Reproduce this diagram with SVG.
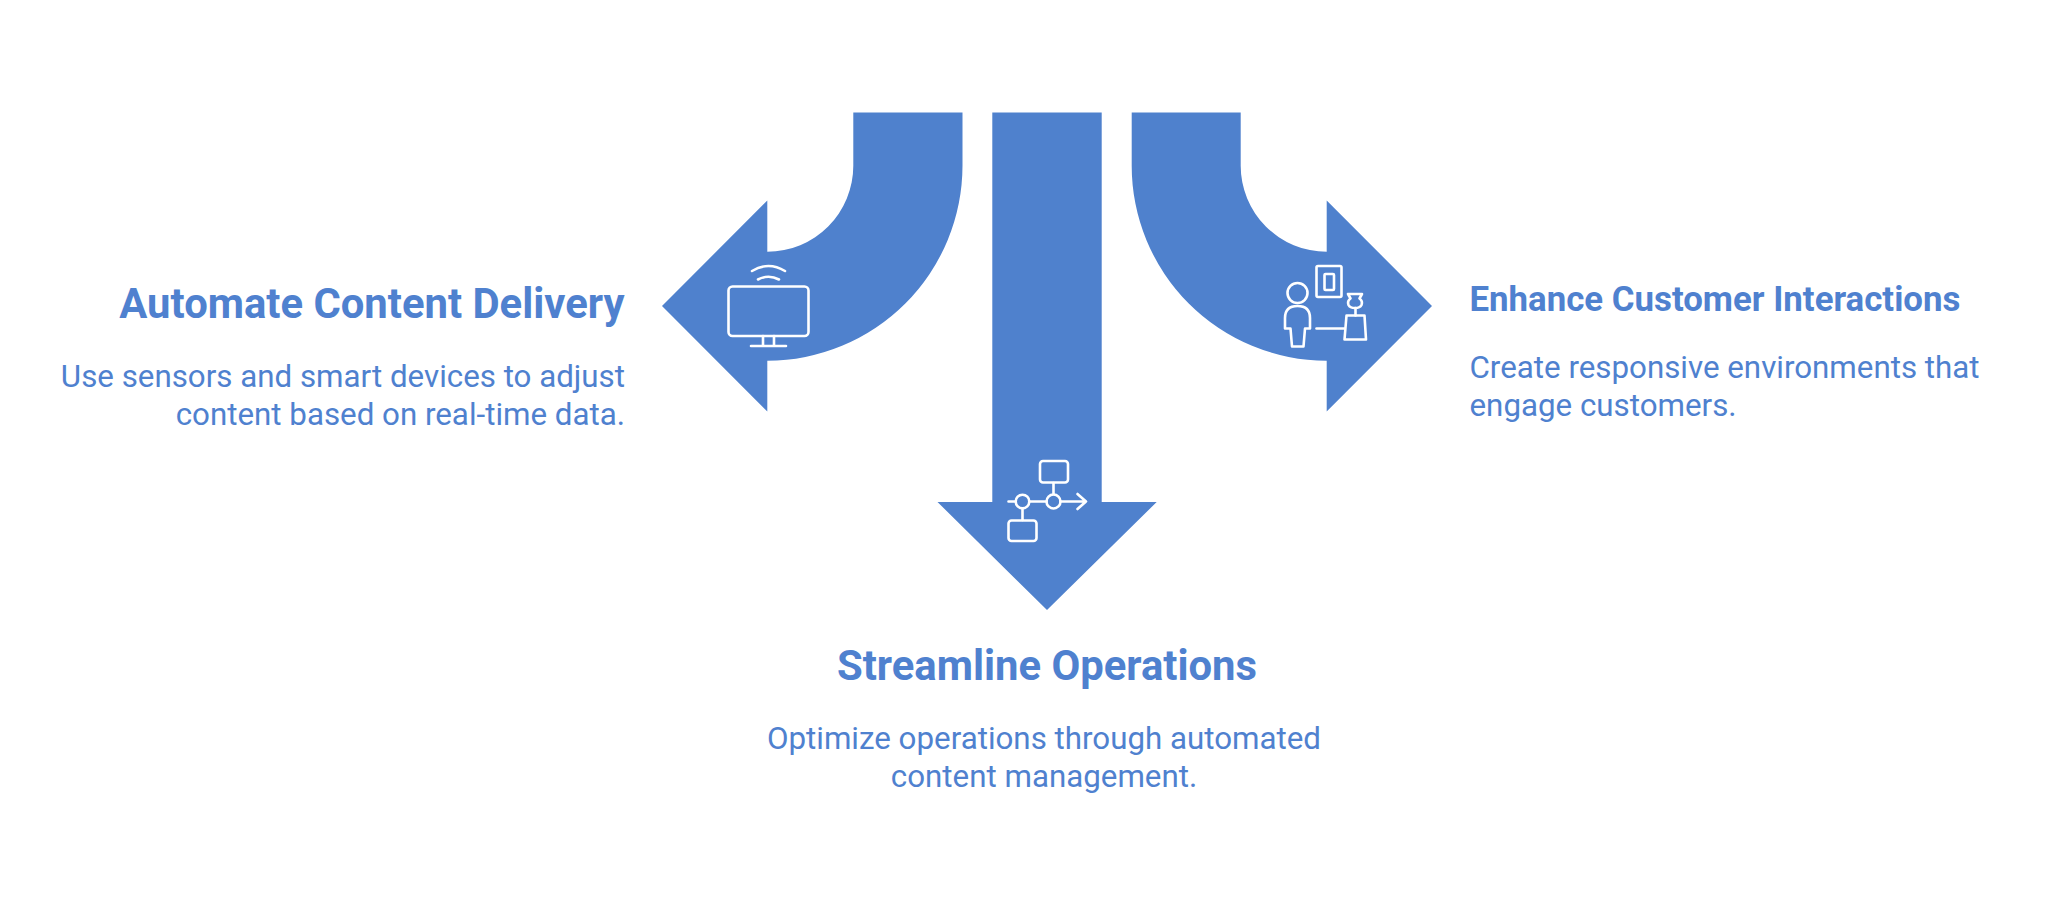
<svg xmlns="http://www.w3.org/2000/svg" width="2048" height="905" viewBox="0 0 2048 905">
<style>
.arrow{fill:#4f81cd}
.ic{fill:none;stroke:#fff;stroke-width:2.6;stroke-linecap:round;stroke-linejoin:round}
text{font-family:Roboto,"Liberation Sans",sans-serif;fill:#4f81cf}
.t{font-size:41.8px;font-weight:700}
.t2{font-size:34.8px;font-weight:700}
.b{font-size:31.3px;font-weight:400}
</style>
<rect width="2048" height="905" fill="#fff"/>
<g id="connectors">
<path id="arrow-left" class="arrow" d="M853.3 112.500H962.500V165.500A195.200 195.200 0 0 1 767.300 360.700V411.500L662 306L767.300 200.500V251.700A86 86 0 0 0 853.300 165.500Z"/>
<path id="arrow-center" class="arrow" d="M992.300 112.500H1101.700V502H1156.700L1047 610L937.500 502H992.300Z"/>
<path id="arrow-right" class="arrow" d="M1131.700 112.500H1240.700V165.500A86 86 0 0 0 1326.700 251.700V200.500L1432 306L1326.700 411.500V360.700A195 195 0 0 1 1131.700 165.500Z"/>
</g>
<g id="node-left">
<g class="ic">
<rect x="728.500" y="286.500" width="80" height="49.500" rx="4"/>
<path d="M763 336V345.500M774 336V345.500M751 346H786"/>
<path d="M752 271Q768.500 261 785 271M758 279.500Q768.500 274 779 279.500"/>
</g>
<text class="t" x="624.500" y="318" text-anchor="end">Automate Content Delivery</text>
<text class="b" x="625" y="387" text-anchor="end">Use sensors and smart devices to adjust</text>
<text class="b" x="625" y="425" text-anchor="end">content based on real-time data.</text>
</g>
<g id="node-center">
<g class="ic">
<rect x="1040" y="461" width="28" height="21.500" rx="3"/>
<path d="M1053.500 483V494"/>
<circle cx="1053.500" cy="501.500" r="7"/>
<circle cx="1022.500" cy="501.500" r="6.800"/>
<path d="M1008.500 501.500H1015.500M1029.500 501.500H1046.500M1060.500 501.500H1086M1077.500 494L1086 501.500L1077.500 509M1022.500 508.500V520"/>
<rect x="1008.500" y="520.500" width="28" height="20.500" rx="3"/>
</g>
<text class="t" x="1047" y="680" text-anchor="middle">Streamline Operations</text>
<text class="b" x="1044" y="749" text-anchor="middle">Optimize operations through automated</text>
<text class="b" x="1044" y="787" text-anchor="middle">content management.</text>
</g>
<g id="node-right">
<g class="ic">
<rect x="1316.500" y="266" width="25" height="31" rx="1.500"/>
<rect x="1324.500" y="274" width="9.500" height="16" rx="1"/>
<circle cx="1297.500" cy="293" r="10"/>
<path d="M1285 328.500V318Q1285 306 1297.500 306Q1310 306 1310 318V328.500H1305L1303.500 346.500H1292L1290.500 328.500Z"/>
<path d="M1316.500 328.500H1344.500"/>
<path d="M1346.500 315.500H1364.500L1366 339.500H1344.500Z"/>
<path d="M1355.500 315.500V308"/>
<path d="M1348 294H1362L1359.500 298.500Q1363 301 1361.500 305Q1360 308 1355 308Q1350 308 1348.500 305Q1347 301 1350.500 298.500Z"/>
</g>
<text class="t2" x="1469.500" y="311">Enhance Customer Interactions</text>
<text class="b" x="1469.500" y="378">Create responsive environments that</text>
<text class="b" x="1469.500" y="416">engage customers.</text>
</g>
</svg>
